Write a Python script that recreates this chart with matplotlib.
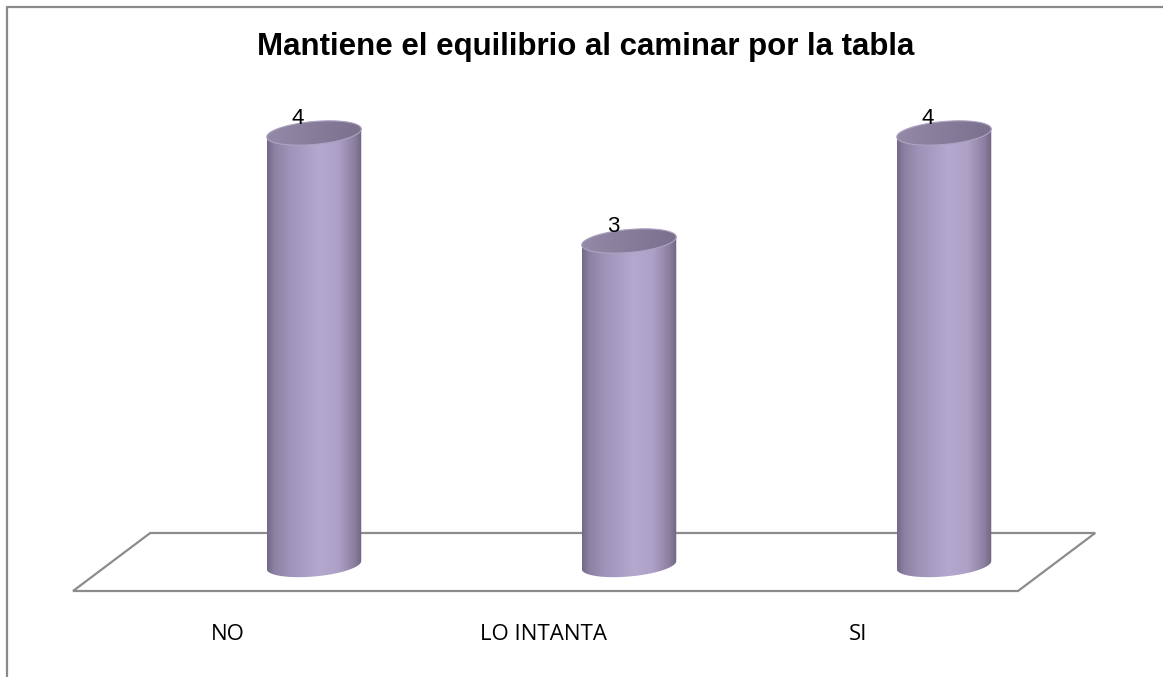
import numpy as np
import matplotlib
matplotlib.use("Agg")
import matplotlib.pyplot as plt
from matplotlib.patches import Polygon
from matplotlib.lines import Line2D
from matplotlib.colors import LinearSegmentedColormap

# ---------- data ----------
categories = ["NO", "LO INTANTA", "SI"]
values = [4, 3, 4]
title = "Mantiene el equilibrio al caminar por la tabla"

# ---------- figure ----------
fig = plt.figure(figsize=(11.63, 6.77), dpi=100)
ax = fig.add_axes([0, 0, 1, 1])
ax.set_axis_off()

# pixel scale of the data axes (x: 315 px per category, y: 108 px per unit)
px_x = 315.0
px_y = 108.0
n = len(categories)

# floor (3D plane under the bars)
front_shift = -0.265
back_shift = -0.02
floor_top = 32 / px_y
floor_bot = -26 / px_y
floor = Polygon([(-0.5 + front_shift, floor_bot), (-0.5 + back_shift, floor_top),
                 (n - 0.5 + back_shift, floor_top), (n - 0.5 + front_shift, floor_bot)],
                closed=True, fill=False, edgecolor="#8c8c8c", lw=1.6, zorder=1)
ax.add_patch(floor)

# body gradient (left -> right)
body_cmap = LinearSegmentedColormap.from_list("cyl", [
    (0.00, (0.45, 0.41, 0.53)),
    (0.08, (0.55, 0.51, 0.64)),
    (0.25, (0.63, 0.58, 0.73)),
    (0.55, (0.71, 0.66, 0.81)),
    (0.75, (0.68, 0.63, 0.78)),
    (0.92, (0.55, 0.50, 0.63)),
    (1.00, (0.44, 0.40, 0.50)),
])
top_cmap = LinearSegmentedColormap.from_list("top", [
    (0.0, (0.58, 0.54, 0.66)),
    (1.0, (0.48, 0.44, 0.55)),
])

a = 0.15              # half width in data units
b = 11.5 / px_y       # ellipse half height
k = 4.0 / px_y        # tilt (right side higher)
t = np.linspace(0, 2 * np.pi, 120)
grad = np.linspace(0, 1, 256).reshape(1, -1)

for i, v in enumerate(values):
    cx = i
    # body: top ellipse upper arc + straight sides + bottom ellipse lower arc
    tt_top = np.linspace(0, np.pi, 60)
    tt_bot = np.linspace(np.pi, 2 * np.pi, 60)
    top_arc = np.column_stack([cx + a * np.cos(tt_top), v + b * np.sin(tt_top) + k * np.cos(tt_top)])
    bot_arc = np.column_stack([cx + a * np.cos(tt_bot), 0 + b * np.sin(tt_bot) + k * np.cos(tt_bot)])
    body = Polygon(np.vstack([top_arc, bot_arc]), closed=True, facecolor="none", edgecolor="none")
    ax.add_patch(body)
    im = ax.imshow(grad, cmap=body_cmap, extent=[cx - a, cx + a, -0.3, v + 0.3],
                   aspect="auto", zorder=2, interpolation="bilinear")
    im.set_clip_path(body)

    # top cap
    cap_pts = np.column_stack([cx + a * np.cos(t), v + b * np.sin(t) + k * np.cos(t)])
    cap = Polygon(cap_pts, closed=True, facecolor="none", edgecolor=(0.68, 0.64, 0.76), lw=0.8, zorder=4)
    ax.add_patch(cap)
    im2 = ax.imshow(grad, cmap=top_cmap, extent=[cx - a, cx + a, v - 0.2, v + 0.2],
                    aspect="auto", zorder=3, interpolation="bilinear")
    im2.set_clip_path(cap)

    # value label
    ax.text(cx - 16 / px_x, v + 15 / px_y, str(v), ha="center", va="center",
            fontsize=16, family="Liberation Sans", color="black", zorder=5)

# category labels along the front edge of the floor
for i, c in enumerate(categories):
    ax.text(i + front_shift - 0.008, -(634 - 565) / px_y, c, ha="center", va="center",
            fontsize=16, family="Open Sans", color="black")

ax.set_xlim(-314 / px_x, (1163 - 314) / px_x)
ax.set_ylim(-(677 - 565) / px_y, 565 / px_y)

fig.text(586 / 1163, 1 - 47 / 677, title, ha="center", va="center",
         fontsize=22.5, fontweight="bold", family="Liberation Sans")

# outer chart border (only left and top are visible)
bx = 7 / 1163
by = 1 - 7 / 677
fig.add_artist(Line2D([bx, bx, 1.01], [-0.01, by, by], transform=fig.transFigure,
                      color="#8a8a8a", lw=1.6))

fig.savefig("out.png", dpi=100)
